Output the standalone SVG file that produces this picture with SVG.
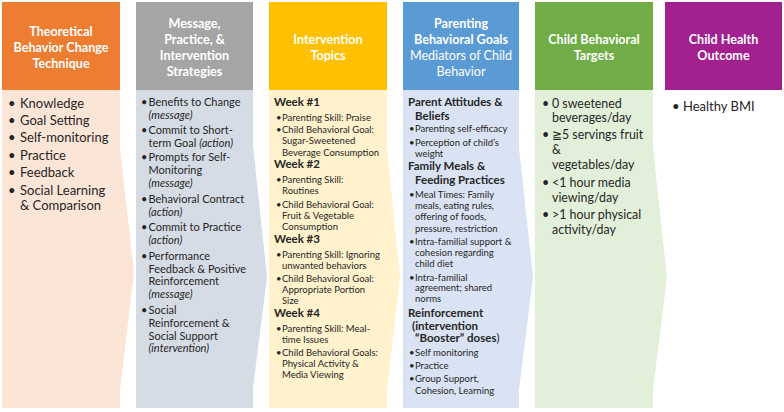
<svg xmlns="http://www.w3.org/2000/svg" width="784" height="412" viewBox="0 0 784 412">
<style>
text{font-family:Lato,"Open Sans","Liberation Sans",sans-serif;fill:#262626}
.h{fill:#fff;font-weight:bold;font-size:12.6px;text-anchor:middle}
.hn{font-weight:normal}
.t13{font-size:13px}
.t125{font-size:12.4px}
.t11{font-size:11px}
.t95{font-size:9.5px}
.wk{font-size:11.5px;font-weight:bold}
.i{font-style:italic}
</style>
<rect width="784" height="412" fill="#fff"/>
<g id="col1">
<rect x="2" y="2" width="118" height="88" fill="#ED7D31"/>
<polygon points="2,90 120,90 120,148 134,272 120,390 120,408 2,408" fill="#FBE5D6"/>
<text class="h"><tspan x="61" y="36">Theoretical</tspan><tspan x="61" y="52">Behavior Change</tspan><tspan x="61" y="68">Technique</tspan></text>
<text class="t13"><tspan x="8" y="108">•</tspan><tspan x="8" y="125">•</tspan><tspan x="8" y="142">•</tspan><tspan x="8" y="160">•</tspan><tspan x="8" y="177">•</tspan><tspan x="8" y="195">•</tspan></text>
<text class="t13"><tspan x="20" y="108">Knowledge</tspan><tspan x="20" y="125">Goal Setting</tspan><tspan x="20" y="142">Self-monitoring</tspan><tspan x="20" y="160">Practice</tspan><tspan x="20" y="177">Feedback</tspan><tspan x="20" y="195">Social Learning</tspan><tspan x="20" y="209.5">&amp; Comparison</tspan></text>
</g>
<g id="col2">
<rect x="136" y="2" width="117" height="88" fill="#A5A5A5"/>
<polygon points="136,90 253,90 253,145 267,277 253,388 253,408 136,408" fill="#D6DCE5"/>
<text class="h"><tspan x="194.5" y="28">Message,</tspan><tspan x="194.5" y="44">Practice, &amp;</tspan><tspan x="194.5" y="60">Intervention</tspan><tspan x="194.5" y="76">Strategies</tspan></text>
<text class="t11"><tspan x="141" y="106">•</tspan><tspan x="141" y="134">•</tspan><tspan x="141" y="161">•</tspan><tspan x="141" y="203">•</tspan><tspan x="141" y="231">•</tspan><tspan x="141" y="260">•</tspan><tspan x="141" y="314">•</tspan></text>
<text class="t11">
<tspan x="148.5" y="106">Benefits to Change</tspan>
<tspan x="148.5" y="119" class="i">(message)</tspan>
<tspan x="148.5" y="134">Commit to Short-</tspan>
<tspan x="148.5" y="147">term Goal <tspan class="i">(action)</tspan></tspan>
<tspan x="148.5" y="161">Prompts for Self-</tspan>
<tspan x="148.5" y="174">Monitoring</tspan>
<tspan x="148.5" y="187" class="i">(message)</tspan>
<tspan x="148.5" y="203">Behavioral Contract</tspan>
<tspan x="148.5" y="216" class="i">(action)</tspan>
<tspan x="148.5" y="231">Commit to Practice</tspan>
<tspan x="148.5" y="244" class="i">(action)</tspan>
<tspan x="148.5" y="260">Performance</tspan>
<tspan x="148.5" y="272.5">Feedback &amp; Positive</tspan>
<tspan x="148.5" y="285">Reinforcement</tspan>
<tspan x="148.5" y="298" class="i">(message)</tspan>
<tspan x="148.5" y="314">Social</tspan>
<tspan x="148.5" y="327">Reinforcement &amp;</tspan>
<tspan x="148.5" y="339.5">Social Support</tspan>
<tspan x="148.5" y="352" class="i">(intervention)</tspan>
</text>
</g>
<g id="col3">
<rect x="269" y="2" width="118" height="88" fill="#FFC000"/>
<polygon points="269,90 387,90 387,148 400,277 387,390 387,408 269,408" fill="#FFF2CC"/>
<text class="h"><tspan x="328" y="44">Intervention</tspan><tspan x="328" y="60">Topics</tspan></text>
<text class="wk"><tspan x="274" y="106">Week #1</tspan><tspan x="274" y="168">Week #2</tspan><tspan x="274" y="243">Week #3</tspan><tspan x="274" y="317">Week #4</tspan></text>
<text class="t95"><tspan x="276" y="120.5">•</tspan><tspan x="276" y="132.5">•</tspan><tspan x="276" y="182.5">•</tspan><tspan x="276" y="207.5">•</tspan><tspan x="276" y="257.5">•</tspan><tspan x="276" y="281.5">•</tspan><tspan x="276" y="331.5">•</tspan><tspan x="276" y="355.5">•</tspan></text>
<text class="t95">
<tspan x="282" y="120.5">Parenting Skill: Praise</tspan>
<tspan x="282" y="132.5">Child Behavioral Goal:</tspan>
<tspan x="282" y="144">Sugar-Sweetened</tspan>
<tspan x="282" y="155.5">Beverage Consumption</tspan>
<tspan x="282" y="182.5">Parenting Skill:</tspan>
<tspan x="282" y="194">Routines</tspan>
<tspan x="282" y="207.5">Child Behavioral Goal:</tspan>
<tspan x="282" y="218.5">Fruit &amp; Vegetable</tspan>
<tspan x="282" y="229.5">Consumption</tspan>
<tspan x="282" y="257.5">Parenting Skill: Ignoring</tspan>
<tspan x="282" y="268.5">unwanted behaviors</tspan>
<tspan x="282" y="281.5">Child Behavioral Goal:</tspan>
<tspan x="282" y="292.5">Appropriate Portion</tspan>
<tspan x="282" y="303.5">Size</tspan>
<tspan x="282" y="331.5">Parenting Skill: Meal-</tspan>
<tspan x="282" y="342.5">time Issues</tspan>
<tspan x="282" y="355.5">Child Behavioral Goals:</tspan>
<tspan x="282" y="366.5">Physical Activity &amp;</tspan>
<tspan x="282" y="378">Media Viewing</tspan>
</text>
</g>
<g id="col4">
<rect x="403" y="2" width="116" height="88" fill="#5B9BD5"/>
<polygon points="403,90 519,90 519,148 533,277 519,390 519,408 403,408" fill="#DAE3F3"/>
<text class="h"><tspan x="461" y="28">Parenting</tspan><tspan x="461" y="44">Behavioral Goals</tspan><tspan x="461" y="60" class="hn">Mediators of Child</tspan><tspan x="461" y="76" class="hn">Behavior</tspan></text>
<text class="wk"><tspan x="408" y="106">Parent Attitudes &amp;</tspan><tspan x="415" y="120">Beliefs</tspan><tspan x="408" y="170">Family Meals &amp;</tspan><tspan x="415" y="183.5">Feeding Practices</tspan><tspan x="408" y="317">Reinforcement</tspan><tspan x="412" y="329.5">(intervention</tspan><tspan x="415" y="342">“Booster” doses<tspan font-weight="normal">)</tspan></tspan></text>
<text class="t95"><tspan x="409" y="132">•</tspan><tspan x="409" y="146">•</tspan><tspan x="409" y="197.5">•</tspan><tspan x="409" y="245">•</tspan><tspan x="409" y="280.5">•</tspan><tspan x="409" y="355.5">•</tspan><tspan x="409" y="368.5">•</tspan><tspan x="409" y="381.5">•</tspan></text>
<text class="t95">
<tspan x="415" y="132">Parenting self-efficacy</tspan>
<tspan x="415" y="146">Perception of child’s</tspan>
<tspan x="415" y="157">weight</tspan>
<tspan x="415" y="197.5">Meal Times: Family</tspan>
<tspan x="415" y="208.5">meals, eating rules,</tspan>
<tspan x="415" y="220">offering of foods,</tspan>
<tspan x="415" y="231.5">pressure, restriction</tspan>
<tspan x="415" y="245">Intra-familial support &amp;</tspan>
<tspan x="415" y="256">cohesion regarding</tspan>
<tspan x="415" y="267">child diet</tspan>
<tspan x="415" y="280.5">Intra-familial</tspan>
<tspan x="415" y="291">agreement; shared</tspan>
<tspan x="415" y="302">norms</tspan>
<tspan x="415" y="355.5">Self monitoring</tspan>
<tspan x="415" y="368.5">Practice</tspan>
<tspan x="415" y="381.5">Group Support,</tspan>
<tspan x="415" y="393.5">Cohesion, Learning</tspan>
</text>
</g>
<g id="col5">
<rect x="535" y="2" width="118" height="88" fill="#70AD47"/>
<polygon points="535,90 653,90 653,148 667,277 653,390 653,408 535,408" fill="#E2F0D9"/>
<text class="h"><tspan x="594" y="44">Child Behavioral</tspan><tspan x="594" y="60">Targets</tspan></text>
<text class="t125"><tspan x="542" y="107.5">•</tspan><tspan x="542" y="138.5">•</tspan><tspan x="542" y="187">•</tspan><tspan x="542" y="219">•</tspan></text>
<text class="t125">
<tspan x="552" y="107.5">0 sweetened</tspan>
<tspan x="552" y="121.5">beverages/day</tspan>
<tspan x="552" y="138.5">≧5 servings fruit</tspan>
<tspan x="552" y="154">&amp;</tspan>
<tspan x="552" y="169">vegetables/day</tspan>
<tspan x="552" y="187">&lt;1 hour media</tspan>
<tspan x="552" y="202">viewing/day</tspan>
<tspan x="552" y="219">&gt;1 hour physical</tspan>
<tspan x="552" y="234">activity/day</tspan>
</text>
</g>
<g id="col6">
<rect x="665" y="2" width="117" height="88" fill="#A3218E"/>
<text class="h"><tspan x="723.5" y="44">Child Health</tspan><tspan x="723.5" y="60">Outcome</tspan></text>
<text class="t13"><tspan x="672" y="111">•</tspan><tspan x="683" y="111">Healthy BMI</tspan></text>
</g>
<g id="connectors"/>
</svg>
